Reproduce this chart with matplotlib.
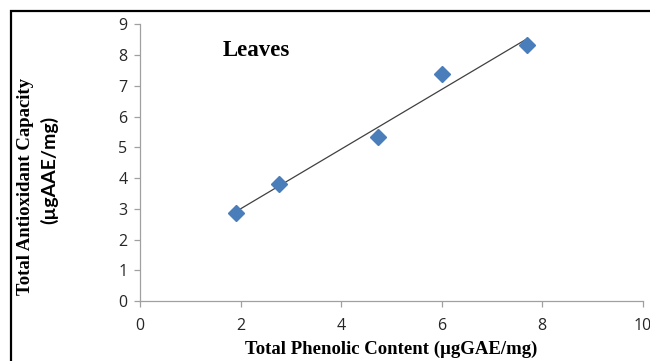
import numpy as np
import matplotlib
matplotlib.use("Agg")
import matplotlib.pyplot as plt
from matplotlib.patches import Rectangle

# Data
phenolic = [1.91, 2.76, 4.74, 6.00, 7.69]
antioxidant = [2.87, 3.81, 5.33, 7.38, 8.32]
x_ticks = [0, 2, 4, 6, 8, 10]
y_ticks = [0, 1, 2, 3, 4, 5, 6, 7, 8, 9]
x_label = "Total Phenolic Content (µgGAE/mg)"
y_label_1 = "Total Antioxidant Capacity"
y_label_2 = "(µgAAE/mg)"
panel_title = "Leaves"

fig = plt.figure(figsize=(6.5, 3.61), dpi=100)
ax = fig.add_axes([0.2154, 0.1662, 0.7736, 0.7665])

# Trendline (least squares)
coef = np.polyfit(phenolic, antioxidant, 1)
xs = np.array([min(phenolic), max(phenolic)])
ax.plot(xs, np.polyval(coef, xs), color="#404040", lw=0.9, zorder=2)
ax.plot(phenolic, antioxidant, linestyle="none", marker="D", markersize=8.5,
        color="#4A7EBB", markeredgecolor="#4A7EBB", zorder=3)

ax.set_xlim(0, 10)
ax.set_ylim(0, 9)
ax.set_xticks(x_ticks)
ax.set_yticks(y_ticks)
for s in ["top", "right"]:
    ax.spines[s].set_visible(False)
for s in ["left", "bottom"]:
    ax.spines[s].set_color("#A0A0A0")
    ax.spines[s].set_linewidth(0.9)
ax.tick_params(direction="out", length=4, width=0.9, color="#A0A0A0",
               labelsize=11.5, labelcolor="#262626")
ax.tick_params(axis="x", pad=8)
ax.tick_params(axis="y", pad=5)
for lab in ax.get_xticklabels() + ax.get_yticklabels():
    lab.set_family("Open Sans")

serif = "Liberation Serif"
fig.text(0.6015, 0.033, x_label, ha="center", va="center",
         fontfamily=serif, fontweight="bold", fontsize=13.5)
fig.text(0.040, 0.483, y_label_1, ha="center", va="center", rotation=90,
         fontfamily=serif, fontweight="bold", fontsize=13.5)
fig.text(0.075, 0.529, y_label_2, ha="center", va="center", rotation=90,
         fontfamily="Lato", fontweight="bold", fontsize=14)
ax.text(0.165, 0.905, panel_title, transform=ax.transAxes, ha="left", va="center",
        fontfamily=serif, fontweight="bold", fontsize=16.5)

# Outer frame (extends beyond right and bottom edges)
fig.patches.append(Rectangle((10.5 / 650, -0.2), 2.0, (361 - 10.5) / 361 + 0.2,
                             transform=fig.transFigure, fill=False,
                             edgecolor="black", linewidth=1.6, clip_on=False))

fig.savefig("out.png", dpi=100)
